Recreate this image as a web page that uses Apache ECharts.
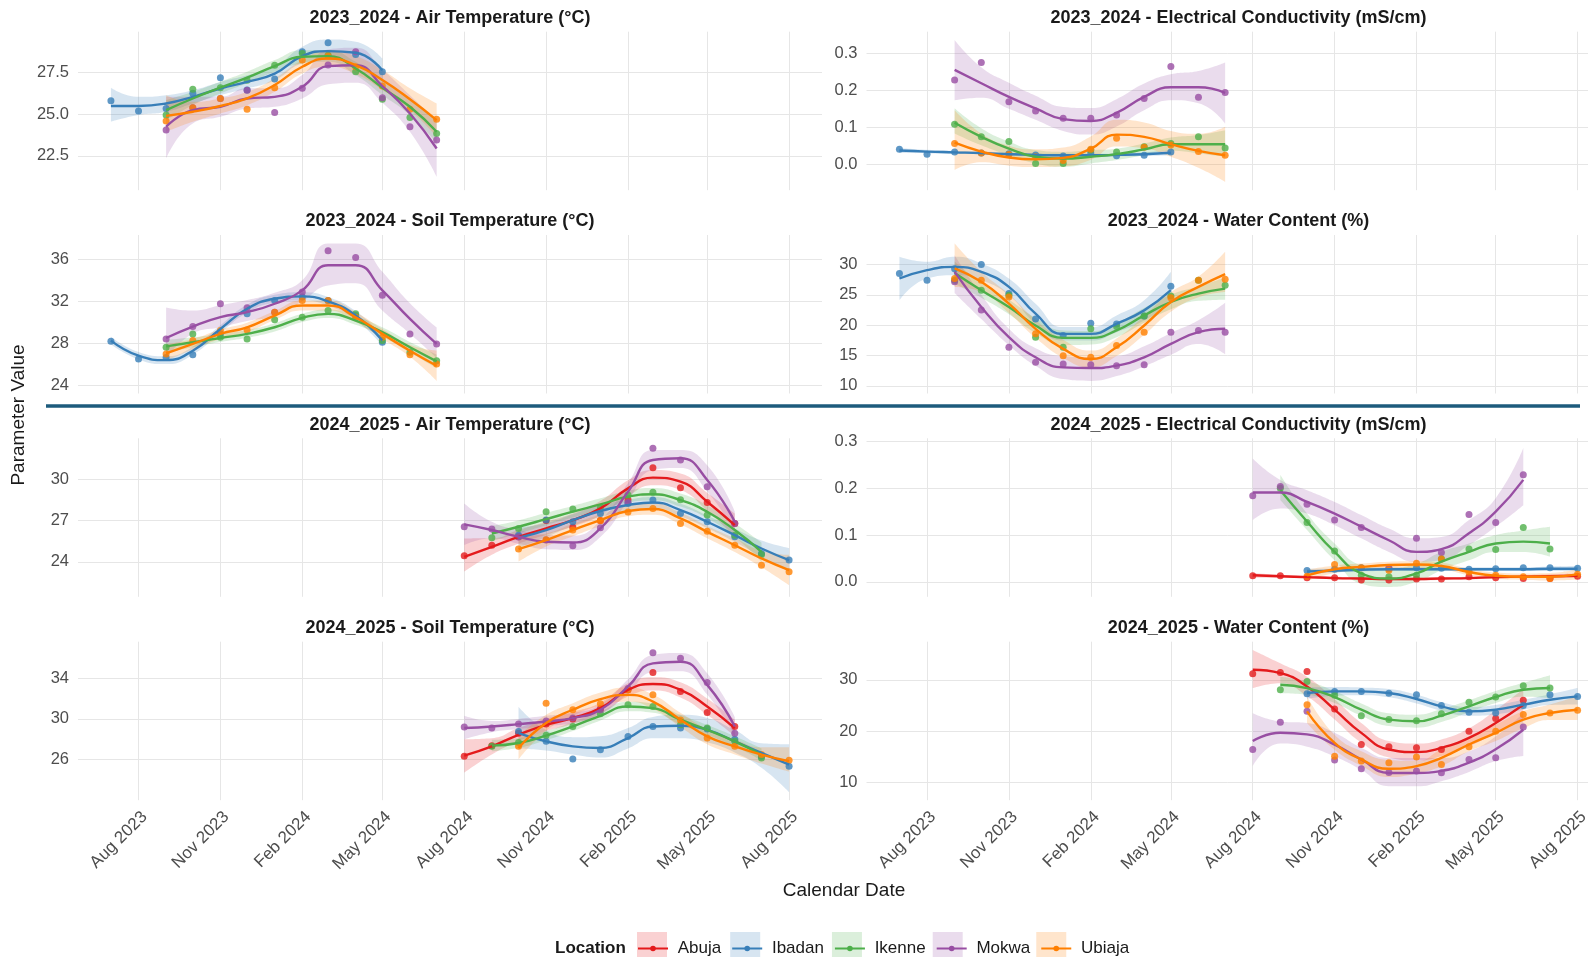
<!DOCTYPE html>
<html>
<head>
<meta charset="utf-8">
<title>Parameter values by location</title>
<script src="https://cdn.jsdelivr.net/npm/echarts@6.0.0/dist/echarts.min.js"></script>
<style>
  html, body { margin: 0; padding: 0; background: #fff; }
  #chart { width: 1588px; height: 957px; }
</style>
</head>
<body>
<div id="chart"></div>
<script>
// sampling months
const m23a = ['2023-07','2023-08','2023-09','2023-10','2023-11','2023-12','2024-01','2024-02','2024-03','2024-04','2024-05'];
const m23b = ['2023-09','2023-10','2023-11','2023-12','2024-01','2024-02','2024-03','2024-04','2024-05','2024-06','2024-07'];
const m24a = ['2024-08','2024-09','2024-10','2024-11','2024-12','2025-01','2025-02','2025-03','2025-04','2025-05','2025-06'];
const m24b = ['2024-09','2024-10','2024-11','2024-12','2025-01','2025-02','2025-03','2025-04','2025-05','2025-06','2025-07'];
const m24c = ['2024-10','2024-11','2024-12','2025-01','2025-02','2025-03','2025-04','2025-05','2025-06','2025-07','2025-08'];
const m24d = ['2024-08','2024-09','2024-10','2024-11','2024-12','2025-01','2025-02','2025-03','2025-04','2025-05','2025-06','2025-07','2025-08'];

// x tick labels
const xTickDates = ['2023-08-01','2023-11-01','2024-02-01','2024-05-01','2024-08-01','2024-11-01','2025-02-01','2025-05-01','2025-08-01'];
const xTickLabels = ['Aug 2023','Nov 2023','Feb 2024','May 2024','Aug 2024','Nov 2024','Feb 2025','May 2025','Aug 2025'];

// y tick values
const AT23_ticks = [22.5, 25, 27.5];
const EC_ticks = [0, 0.1, 0.2, 0.3];
const ST23_ticks = [24, 28, 32, 36];
const WC23_ticks = [10, 15, 20, 25, 30];
const AT24_ticks = [24, 27, 30];
const ST24_ticks = [26, 30, 34];
const WC24_ticks = [10, 20, 30];

// ---- 2023_2024 Air Temperature
const AT23_Ib_pt  = [25.81,25.19,25.35,26.26,27.2,26.46,27.12,28.77,29.31,28.6,27.56];
const AT23_Ib_fit = [25.5,25.5,25.65,26.05,26.55,26.95,27.45,28.5,28.8,28.7,27.65];
const AT23_Ib_lo  = [24.55,24.95,25.15,25.65,26.15,26.55,27.05,28.06,28.26,28.06,26.96];
const AT23_Ib_hi  = [26.6,26.05,26.15,26.45,26.95,27.35,27.85,29.06,29.5,29.37,28.36];
const AT23_Ik_pt  = [24.95,26.5,26.6,27.05,27.95,28.66,28.56,27.56,25.9,24.8,23.85];
const AT23_Ik_fit = [25.25,25.95,26.6,27.2,27.9,28.46,28.5,27.76,26.6,25.45,23.95];
const AT23_Ik_lo  = [24.65,25.55,26.25,26.86,27.56,28.06,28.16,27.36,26.16,24.95,23.24];
const AT23_Ik_hi  = [25.85,26.35,26.96,27.56,28.26,28.86,28.86,28.16,27.06,25.95,24.65];
const AT23_Mo_pt  = [24.05,25.4,25.95,26.45,25.1,26.56,27.96,28.77,26.0,24.25,23.45];
const AT23_Mo_fit = [24.25,25.25,25.45,25.95,26.05,26.66,27.9,27.95,26.7,25.05,22.94];
const AT23_Mo_lo  = [22.34,24.45,24.85,25.35,25.45,25.95,26.8,26.9,25.7,23.95,21.24];
const AT23_Mo_hi  = [26.05,26.05,26.05,26.56,26.56,27.36,28.9,29.0,27.7,26.15,24.6];
const AT23_Ub_pt  = [24.6,25.4,25.95,25.3,26.6,28.26,28.5,27.86,26.7,25.3,24.7];
const AT23_Ub_fit = [24.9,25.15,25.5,25.95,26.76,27.86,28.36,27.96,27.06,25.9,24.65];
const AT23_Ub_lo  = [23.95,24.55,25.05,25.55,26.36,27.46,27.86,27.42,26.46,25.25,23.64];
const AT23_Ub_hi  = [26.15,25.75,25.95,26.35,27.16,28.26,28.86,28.5,27.66,26.56,25.65];

// ---- 2023_2024 Electrical Conductivity
const EC23_Ib_pt  = [0.040,0.027,0.033,0.030,0.028,0.025,0.022,0.030,0.023,0.024,0.033];
const EC23_Ib_fit = [0.037,0.034,0.032,0.030,0.027,0.025,0.024,0.024,0.025,0.027,0.031];
const EC23_Ib_lo  = [0.030,0.029,0.028,0.026,0.023,0.021,0.020,0.020,0.021,0.022,0.024];
const EC23_Ib_hi  = [0.044,0.039,0.036,0.034,0.031,0.029,0.028,0.028,0.029,0.032,0.038];
const EC23_Ik_pt  = [0.108,0.074,0.061,0.002,0.002,0.038,0.033,0.047,0.056,0.074,0.044];
const EC23_Ik_fit = [0.112,0.074,0.042,0.020,0.015,0.020,0.027,0.040,0.054,0.054,0.054];
const EC23_Ik_lo  = [0.083,0.051,0.024,0.002,-0.007,0.002,0.011,0.024,0.036,0.029,0.020];
const EC23_Ik_hi  = [0.151,0.097,0.061,0.038,0.033,0.038,0.042,0.056,0.072,0.079,0.092];
const EC23_Mo_pt  = [0.228,0.275,0.169,0.144,0.124,0.124,0.133,0.178,0.264,0.181,0.194];
const EC23_Mo_fit = [0.255,0.219,0.182,0.151,0.122,0.117,0.139,0.182,0.208,0.208,0.193];
const EC23_Mo_lo  = [0.173,0.180,0.150,0.120,0.090,0.080,0.102,0.146,0.173,0.165,0.110];
const EC23_Mo_hi  = [0.336,0.262,0.220,0.185,0.155,0.152,0.176,0.218,0.243,0.252,0.275];
const EC23_Ub_pt  = [0.056,0.030,0.026,0.020,0.010,0.040,0.070,0.046,0.052,0.034,0.024];
const EC23_Ub_fit = [0.058,0.034,0.018,0.013,0.017,0.042,0.080,0.074,0.054,0.036,0.024];
const EC23_Ub_lo  = [-0.016,0.005,-0.004,-0.008,-0.006,0.012,0.048,0.043,0.020,-0.010,-0.048];
const EC23_Ub_hi  = [0.146,0.083,0.050,0.040,0.045,0.075,0.120,0.113,0.090,0.082,0.101];

// ---- 2023_2024 Soil Temperature
const ST23_Ib_pt  = [28.17,26.48,26.64,26.9,28.9,30.8,32.07,32.39,32.07,30.63,28.08];
const ST23_Ib_fit = [28.24,26.8,26.38,27.28,29.35,31.27,32.23,32.45,31.97,30.63,28.24];
const ST23_Ib_lo  = [27.9,26.45,26.0,26.9,29.0,30.9,31.85,32.05,31.55,30.2,27.75];
const ST23_Ib_hi  = [28.6,27.15,26.75,27.65,29.7,31.65,32.6,32.85,32.4,31.05,28.7];
const ST23_Ik_pt  = [27.6,28.88,28.56,28.4,30.22,30.47,31.11,30.8,28.24,27.12,26.32];
const ST23_Ik_fit = [27.69,28.08,28.49,28.88,29.51,30.41,30.79,30.15,29.04,27.6,26.26];
const ST23_Ik_lo  = [27.1,27.6,28.1,28.5,29.1,30.0,30.4,29.75,28.6,27.1,25.6];
const ST23_Ik_hi  = [28.3,28.55,28.9,29.25,29.9,30.8,31.2,30.55,29.5,28.1,26.9];
const ST23_Mo_pt  = [28.4,29.58,31.75,31.37,30.95,32.87,36.8,36.16,32.55,28.88,27.92];
const ST23_Mo_fit = [28.49,29.58,30.47,30.95,31.75,33.03,35.42,35.42,33.03,30.31,27.92];
const ST23_Mo_lo  = [26.6,28.9,29.5,30.1,30.6,32.0,33.5,33.7,31.1,28.9,26.6];
const ST23_Mo_hi  = [31.4,31.1,31.6,32.1,32.8,34.0,37.5,37.5,34.8,31.8,29.5];
const ST23_Ub_pt  = [26.96,28.24,29.19,29.26,30.95,32.07,32.07,30.47,28.56,26.9,26.0];
const ST23_Ub_fit = [27.02,27.92,28.88,29.51,30.63,31.59,31.59,30.47,28.88,27.28,25.84];
const ST23_Ub_lo  = [26.3,27.4,28.4,29.05,30.2,31.1,31.1,30.0,28.4,26.7,24.4];
const ST23_Ub_hi  = [27.9,28.4,29.3,29.95,31.05,32.05,32.05,30.95,29.35,27.85,27.3];

// ---- 2023_2024 Water Content
const WC23_Ib_pt  = [28.5,27.4,29.3,30.0,25.2,21.0,18.3,20.3,20.2,21.5,26.4];
const WC23_Ib_fit = [27.68,29.06,29.6,28.78,26.3,21.88,18.56,18.56,20.22,22.43,25.75];
const WC23_Ib_lo  = [24.09,27.68,28.23,27.4,24.92,20.22,17.46,17.46,18.84,20.77,23.54];
const WC23_Ib_hi  = [31.27,30.44,31.27,30.17,27.68,23.54,19.67,19.67,21.6,24.09,28.78];
const WC23_Ik_pt  = [27.4,25.75,24.92,18.0,16.35,19.4,19.78,21.5,24.8,27.4,26.57];
const WC23_Ik_fit = [28.6,25.75,22.98,19.94,17.9,17.9,19.12,21.6,23.81,25.19,26.02];
const WC23_Ik_lo  = [26.8,24.5,21.8,18.7,16.7,16.8,18.0,20.4,22.6,24.0,24.2];
const WC23_Ik_hi  = [30.5,27.0,24.2,21.2,19.1,19.0,20.3,22.8,25.0,26.4,27.8];
const WC23_Mo_pt  = [27.13,22.5,16.35,13.87,13.6,13.48,13.32,13.48,18.84,19.12,18.84];
const WC23_Mo_fit = [28.78,22.98,18.01,14.7,13.04,12.93,13.32,14.7,16.91,18.84,19.39];
const WC23_Mo_lo  = [25.3,21.0,16.7,13.3,11.1,10.8,11.6,13.2,15.1,16.9,15.2];
const WC23_Mo_hi  = [31.5,25.0,19.4,16.2,14.9,14.7,14.9,16.5,18.7,20.8,23.7];
const WC23_Ub_pt  = [27.68,27.4,24.64,18.56,14.97,14.7,16.63,18.84,24.5,27.4,27.57];
const WC23_Ub_fit = [29.34,27.13,23.54,19.39,16.08,14.42,16.35,19.94,23.81,26.3,28.4];
const WC23_Ub_lo  = [26.3,25.5,22.0,17.9,14.6,13.04,14.9,18.4,22.2,24.6,25.47];
const WC23_Ub_hi  = [33.48,28.8,25.1,20.9,17.6,15.8,17.8,21.5,25.4,28.0,32.1];

// ---- 2024_2025 Air Temperature
const AT24_Ab_pt  = [24.43,25.2,25.81,27.0,26.5,27.0,28.5,30.82,29.37,28.3,26.78];
const AT24_Ab_fit = [24.36,25.08,25.81,26.42,27.02,27.87,29.32,30.1,29.81,28.35,26.66];
const AT24_Ab_lo  = [23.27,24.5,25.3,25.95,26.55,27.35,28.75,29.55,29.2,27.7,25.8];
const AT24_Ab_hi  = [25.69,25.7,26.3,26.9,27.5,28.4,29.9,30.65,30.4,29.0,27.5];
const AT24_Ib_pt  = [25.93,27.02,26.9,27.5,28.23,28.47,27.5,26.9,25.81,24.6,24.12];
const AT24_Ib_fit = [25.74,26.3,27.02,27.68,28.11,28.3,27.75,26.9,25.93,24.96,24.12];
const AT24_Ib_lo  = [25.0,25.8,26.6,27.25,27.7,27.9,27.3,26.45,25.45,24.35,23.3];
const AT24_Ib_hi  = [26.5,26.8,27.45,28.1,28.5,28.7,28.2,27.35,26.4,25.55,25.0];
const AT24_Ik_pt  = [25.74,26.42,27.63,27.82,27.9,28.84,29.03,28.5,27.39,25.93,24.53];
const AT24_Ik_fit = [26.05,26.54,27.09,27.63,28.16,28.72,28.89,28.47,27.63,26.3,24.72];
const AT24_Ik_lo  = [25.5,26.05,26.65,27.2,27.75,28.3,28.45,28.0,27.15,25.8,24.0];
const AT24_Ik_hi  = [26.6,27.0,27.55,28.05,28.6,29.15,29.35,28.95,28.1,26.8,25.4];
const AT24_Mo_pt  = [26.54,26.37,25.8,25.57,25.16,26.47,28.3,32.23,31.38,29.44,26.78];
const AT24_Mo_fit = [26.71,26.3,25.81,25.45,25.4,26.42,29.08,31.38,31.5,29.93,26.9];
const AT24_Mo_lo  = [25.2,25.7,25.3,24.9,24.85,25.8,28.4,30.65,30.8,29.1,26.2];
const AT24_Mo_hi  = [28.23,26.9,26.3,25.95,25.9,27.0,29.7,32.1,32.1,31.0,27.65];
const AT24_Ub_pt  = [24.92,25.6,26.3,27.0,27.6,27.87,26.78,26.22,25.2,23.75,23.27];
const AT24_Ub_fit = [24.92,25.57,26.3,27.02,27.68,27.82,27.14,26.17,25.2,24.24,23.39];
const AT24_Ub_lo  = [24.0,25.1,25.85,26.6,27.3,27.4,26.7,25.7,24.7,23.6,22.3];
const AT24_Ub_hi  = [25.8,26.05,26.75,27.45,28.05,28.25,27.55,26.6,25.7,24.8,24.5];

// ---- 2024_2025 Electrical Conductivity
const EC24_Ab_pt  = [0.013,0.013,0.009,0.009,0.004,0.004,0.006,0.006,0.011,0.009,0.007,0.007,0.012];
const EC24_Ab_fit = [0.014,0.012,0.010,0.008,0.007,0.006,0.006,0.007,0.008,0.010,0.011,0.012,0.013];
const EC24_Ab_lo  = [0.009,0.009,0.007,0.005,0.004,0.003,0.003,0.004,0.005,0.007,0.008,0.008,0.008];
const EC24_Ab_hi  = [0.019,0.015,0.013,0.011,0.010,0.009,0.009,0.010,0.011,0.013,0.014,0.016,0.018];
const EC24_Ib_pt  = [0.024,0.027,0.030,0.028,0.030,0.029,0.027,0.028,0.030,0.030,0.029];
const EC24_Ib_fit = [0.022,0.024,0.026,0.027,0.027,0.027,0.027,0.027,0.027,0.028,0.028];
const EC24_Ib_lo  = [0.016,0.020,0.022,0.023,0.023,0.023,0.023,0.023,0.023,0.023,0.022];
const EC24_Ib_hi  = [0.028,0.028,0.030,0.031,0.031,0.031,0.031,0.031,0.031,0.033,0.034];
const EC24_Ik_pt  = [0.200,0.127,0.066,0.014,0.011,0.014,0.049,0.070,0.069,0.116,0.070];
const EC24_Ik_fit = [0.196,0.129,0.064,0.018,0.007,0.018,0.043,0.064,0.082,0.086,0.082];
const EC24_Ik_lo  = [0.175,0.111,0.046,-0.004,-0.011,0.000,0.025,0.046,0.064,0.064,0.054];
const EC24_Ik_hi  = [0.229,0.146,0.082,0.036,0.029,0.039,0.064,0.082,0.100,0.110,0.118];
const EC24_Mo_pt  = [0.184,0.204,0.166,0.132,0.116,0.030,0.093,0.063,0.144,0.127,0.229];
const EC24_Mo_fit = [0.191,0.191,0.171,0.146,0.118,0.089,0.064,0.070,0.104,0.150,0.218];
const EC24_Mo_lo  = [0.132,0.157,0.146,0.121,0.093,0.064,0.043,0.046,0.079,0.118,0.164];
const EC24_Mo_hi  = [0.264,0.218,0.196,0.171,0.143,0.114,0.093,0.096,0.132,0.179,0.286];
const EC24_Ub_pt  = [0.012,0.037,0.030,0.025,0.040,0.049,0.021,0.014,0.011,0.007,0.016];
const EC24_Ub_fit = [0.014,0.027,0.032,0.036,0.037,0.034,0.021,0.013,0.011,0.011,0.016];
const EC24_Ub_lo  = [0.002,0.019,0.025,0.029,0.030,0.027,0.014,0.006,0.004,0.003,0.005];
const EC24_Ub_hi  = [0.026,0.035,0.039,0.043,0.044,0.041,0.028,0.020,0.018,0.019,0.027];

// ---- 2024_2025 Soil Temperature
const ST24_Ab_pt  = [26.32,27.37,28.6,29.5,30.0,31.0,32.86,34.56,32.69,30.63,29.26];
const ST24_Ab_fit = [26.39,27.3,28.44,29.42,30.08,31.06,32.86,33.44,32.86,31.22,29.1];
const ST24_Ab_lo  = [24.7,26.5,27.8,28.8,29.5,30.5,32.2,32.8,32.1,30.4,28.3];
const ST24_Ab_hi  = [28.0,28.1,29.1,30.0,30.7,31.6,33.5,34.1,33.6,32.0,29.9];
const ST24_Ib_pt  = [28.77,27.8,26.06,26.97,28.28,29.26,29.1,29.0,28.0,26.32,25.34];
const ST24_Ib_fit = [28.61,27.79,27.3,27.14,28.12,29.26,29.33,28.93,27.79,26.65,25.5];
const ST24_Ib_lo  = [27.1,26.9,26.5,26.2,27.1,28.1,28.1,27.7,26.7,25.2,22.8];
const ST24_Ib_hi  = [31.2,28.9,28.2,28.3,29.1,30.2,30.4,30.1,28.9,27.6,27.5];
const ST24_Ik_pt  = [27.3,27.69,28.4,29.26,30.5,31.39,31.22,29.42,29.1,27.8,26.16];
const ST24_Ik_fit = [27.37,27.63,28.35,29.26,30.31,31.22,31.06,29.92,28.93,27.79,26.48];
const ST24_Ik_lo  = [26.8,27.15,27.9,28.8,29.85,30.75,30.6,29.45,28.45,27.3,25.9];
const ST24_Ik_hi  = [27.95,28.1,28.8,29.7,30.75,31.7,31.5,30.4,29.4,28.3,27.1];
const ST24_Mo_pt  = [29.2,29.1,29.5,29.8,30.1,30.9,33.0,36.52,35.96,33.58,28.6];
const ST24_Mo_fit = [29.1,29.26,29.49,29.75,30.08,30.9,33.18,35.47,35.63,33.35,29.26];
const ST24_Mo_lo  = [28.0,28.7,29.0,29.3,29.6,30.4,32.5,34.6,34.7,32.4,28.3];
const ST24_Mo_hi  = [30.3,29.8,30.0,30.3,30.6,31.4,33.9,36.3,36.5,34.5,30.2];
const ST24_Ub_pt  = [27.3,31.55,30.9,31.5,32.86,32.37,29.9,28.12,27.3,26.5,25.93];
const ST24_Ub_fit = [27.14,29.59,30.9,31.94,32.37,31.71,29.92,28.28,27.3,26.48,25.83];
const ST24_Ub_lo  = [26.0,28.8,30.3,31.3,31.7,31.0,29.2,27.5,26.5,25.6,24.8];
const ST24_Ub_hi  = [28.3,30.4,31.55,32.6,33.1,32.4,30.6,29.0,28.0,27.2,27.2];

// ---- 2024_2025 Water Content
const WC24_Ab_pt  = [31.16,31.4,31.6,24.32,17.42,16.97,16.77,16.45,20.0,22.5,26.0];
const WC24_Ab_fit = [31.94,31.29,28.71,24.19,19.68,16.45,15.94,16.77,18.71,21.61,25.16];
const WC24_Ab_lo  = [28.39,29.35,26.8,22.3,17.8,14.9,14.3,15.2,17.1,19.6,22.3];
const WC24_Ab_hi  = [35.8,33.2,30.6,26.2,21.6,18.1,17.6,18.4,20.6,24.1,28.2];
const WC24_Ib_pt  = [27.29,27.74,27.74,27.4,27.1,25.0,23.68,23.55,25.0,27.1,26.77];
const WC24_Ib_fit = [27.42,27.74,27.74,27.42,26.26,24.84,23.87,24.19,25.16,26.13,26.77];
const WC24_Ib_lo  = [26.3,26.9,27.0,26.6,25.4,24.0,23.0,23.3,24.2,25.1,25.2];
const WC24_Ib_hi  = [28.5,28.6,28.5,28.2,27.1,25.7,24.7,25.1,26.1,27.2,28.4];
const WC24_Ik_pt  = [28.06,29.68,27.0,23.03,22.26,22.06,23.42,25.61,26.65,28.84,28.39];
const WC24_Ik_fit = [29.03,28.39,26.65,24.19,22.26,21.94,23.03,24.84,26.65,28.06,28.39];
const WC24_Ik_lo  = [27.4,27.1,25.5,23.0,21.0,20.7,21.8,23.7,25.5,26.7,26.4];
const WC24_Ik_hi  = [30.6,29.7,27.8,25.4,23.5,23.2,24.3,26.0,27.8,29.4,30.9];
const WC24_Mo_pt  = [16.45,21.74,23.87,14.39,12.71,12.0,12.26,11.94,14.52,14.84,20.84];
const WC24_Mo_fit = [18.1,19.7,19.4,17.4,14.5,11.9,11.9,12.3,13.9,16.5,20.3];
const WC24_Mo_lo  = [13.2,17.6,17.0,15.1,12.5,9.3,9.3,10.3,12.1,14.2,15.2];
const WC24_Mo_hi  = [23.5,21.9,21.6,19.7,16.8,14.8,14.8,14.8,16.1,19.0,23.5];
const WC24_Ub_pt  = [25.16,15.16,14.2,13.87,15.0,13.55,17.0,20.0,23.23,23.55,24.06];
const WC24_Ub_fit = [23.87,17.74,14.52,12.71,13.23,14.84,17.42,19.68,22.26,23.55,24.19];
const WC24_Ub_lo  = [21.6,16.4,13.3,11.1,11.8,13.2,16.1,18.1,20.6,22.2,22.2];
const WC24_Ub_hi  = [26.8,19.3,16.1,14.4,14.2,16.5,19.0,21.3,23.9,25.2,26.8];

const LOCS = ['Abuja', 'Ibadan', 'Ikenne', 'Mokwa', 'Ubiaja'];
const LOC_COLOR = { Abuja: '#E41A1C', Ibadan: '#377EB8', Ikenne: '#4DAF4A', Mokwa: '#984EA3', Ubiaja: '#FF7F00' };
const LOC_FILL = { Abuja: 'rgba(228,26,28,0.2)', Ibadan: 'rgba(55,126,184,0.2)', Ikenne: 'rgba(77,175,74,0.2)', Mokwa: 'rgba(152,78,163,0.2)', Ubiaja: 'rgba(255,127,0,0.2)' };

const FONT = "'Liberation Sans', Arial, sans-serif";

// panel table: title, column, row, y range, y ticks, decimals, [location, months, pts, fit, lo, hi]
const panels = [
  ['2023_2024 - Air Temperature (°C)', 0, 0, [20.43, 29.97], AT23_ticks, 1, [
    ['Ibadan', m23a, AT23_Ib_pt, AT23_Ib_fit, AT23_Ib_lo, AT23_Ib_hi],
    ['Ikenne', m23b, AT23_Ik_pt, AT23_Ik_fit, AT23_Ik_lo, AT23_Ik_hi],
    ['Mokwa', m23b, AT23_Mo_pt, AT23_Mo_fit, AT23_Mo_lo, AT23_Mo_hi],
    ['Ubiaja', m23b, AT23_Ub_pt, AT23_Ub_fit, AT23_Ub_lo, AT23_Ub_hi]]],
  ['2023_2024 - Electrical Conductivity (mS/cm)', 1, 0, [-0.0705, 0.3585], EC_ticks, 1, [
    ['Ibadan', m23a, EC23_Ib_pt, EC23_Ib_fit, EC23_Ib_lo, EC23_Ib_hi],
    ['Ikenne', m23b, EC23_Ik_pt, EC23_Ik_fit, EC23_Ik_lo, EC23_Ik_hi],
    ['Mokwa', m23b, EC23_Mo_pt, EC23_Mo_fit, EC23_Mo_lo, EC23_Mo_hi],
    ['Ubiaja', m23b, EC23_Ub_pt, EC23_Ub_fit, EC23_Ub_lo, EC23_Ub_hi]]],
  ['2023_2024 - Soil Temperature (°C)', 0, 1, [23.2, 38.3], ST23_ticks, 0, [
    ['Ibadan', m23a, ST23_Ib_pt, ST23_Ib_fit, ST23_Ib_lo, ST23_Ib_hi],
    ['Ikenne', m23b, ST23_Ik_pt, ST23_Ik_fit, ST23_Ik_lo, ST23_Ik_hi],
    ['Mokwa', m23b, ST23_Mo_pt, ST23_Mo_fit, ST23_Mo_lo, ST23_Mo_hi],
    ['Ubiaja', m23b, ST23_Ub_pt, ST23_Ub_fit, ST23_Ub_lo, ST23_Ub_hi]]],
  ['2023_2024 - Water Content (%)', 1, 1, [8.73, 34.85], WC23_ticks, 0, [
    ['Ibadan', m23a, WC23_Ib_pt, WC23_Ib_fit, WC23_Ib_lo, WC23_Ib_hi],
    ['Ikenne', m23b, WC23_Ik_pt, WC23_Ik_fit, WC23_Ik_lo, WC23_Ik_hi],
    ['Mokwa', m23b, WC23_Mo_pt, WC23_Mo_fit, WC23_Mo_lo, WC23_Mo_hi],
    ['Ubiaja', m23b, WC23_Ub_pt, WC23_Ub_fit, WC23_Ub_lo, WC23_Ub_hi]]],
  ['2024_2025 - Air Temperature (°C)', 0, 2, [21.46, 32.95], AT24_ticks, 0, [
    ['Abuja', m24a, AT24_Ab_pt, AT24_Ab_fit, AT24_Ab_lo, AT24_Ab_hi],
    ['Ibadan', m24c, AT24_Ib_pt, AT24_Ib_fit, AT24_Ib_lo, AT24_Ib_hi],
    ['Ikenne', m24b, AT24_Ik_pt, AT24_Ik_fit, AT24_Ik_lo, AT24_Ik_hi],
    ['Mokwa', m24a, AT24_Mo_pt, AT24_Mo_fit, AT24_Mo_lo, AT24_Mo_hi],
    ['Ubiaja', m24c, AT24_Ub_pt, AT24_Ub_fit, AT24_Ub_lo, AT24_Ub_hi]]],
  ['2024_2025 - Electrical Conductivity (mS/cm)', 1, 2, [-0.032, 0.307], EC_ticks, 1, [
    ['Abuja', m24d, EC24_Ab_pt, EC24_Ab_fit, EC24_Ab_lo, EC24_Ab_hi],
    ['Ibadan', m24c, EC24_Ib_pt, EC24_Ib_fit, EC24_Ib_lo, EC24_Ib_hi],
    ['Ikenne', m24b, EC24_Ik_pt, EC24_Ik_fit, EC24_Ik_lo, EC24_Ik_hi],
    ['Mokwa', m24a, EC24_Mo_pt, EC24_Mo_fit, EC24_Mo_lo, EC24_Mo_hi],
    ['Ubiaja', m24c, EC24_Ub_pt, EC24_Ub_fit, EC24_Ub_lo, EC24_Ub_hi]]],
  ['2024_2025 - Soil Temperature (°C)', 0, 3, [22.0, 37.6], ST24_ticks, 0, [
    ['Abuja', m24a, ST24_Ab_pt, ST24_Ab_fit, ST24_Ab_lo, ST24_Ab_hi],
    ['Ibadan', m24c, ST24_Ib_pt, ST24_Ib_fit, ST24_Ib_lo, ST24_Ib_hi],
    ['Ikenne', m24b, ST24_Ik_pt, ST24_Ik_fit, ST24_Ik_lo, ST24_Ik_hi],
    ['Mokwa', m24a, ST24_Mo_pt, ST24_Mo_fit, ST24_Mo_lo, ST24_Mo_hi],
    ['Ubiaja', m24c, ST24_Ub_pt, ST24_Ub_fit, ST24_Ub_lo, ST24_Ub_hi]]],
  ['2024_2025 - Water Content (%)', 1, 3, [6.6, 37.4], WC24_ticks, 0, [
    ['Abuja', m24a, WC24_Ab_pt, WC24_Ab_fit, WC24_Ab_lo, WC24_Ab_hi],
    ['Ibadan', m24c, WC24_Ib_pt, WC24_Ib_fit, WC24_Ib_lo, WC24_Ib_hi],
    ['Ikenne', m24b, WC24_Ik_pt, WC24_Ik_fit, WC24_Ik_lo, WC24_Ik_hi],
    ['Mokwa', m24a, WC24_Mo_pt, WC24_Mo_fit, WC24_Mo_lo, WC24_Mo_hi],
    ['Ubiaja', m24c, WC24_Ub_pt, WC24_Ub_fit, WC24_Ub_lo, WC24_Ub_hi]]]
];

// layout
const GRID_LEFT = [78, 866.5], GRID_W = 744, GRID_TOP = [31.7, 235, 438.3, 641.7], GRID_H = 158.5;

function ts(s) {
  const p = s.split('-').map(Number);
  return Date.UTC(p[0], p[1] - 1, p[2] || 1);
}
const X_MIN = ts('2023-05-25'), X_MAX = ts('2025-09-07');
const xTickTs = xTickDates.map(ts);

// same spline rule as the line series (smooth: true -> 0.5)
function smoothPath(pts, start) {
  const S = 0.5;
  let d = (start ? 'M' : 'L') + pts[0][0] + ',' + pts[0][1];
  let c0x = pts[0][0], c0y = pts[0][1];
  for (let k = 1; k < pts.length; k++) {
    const x = pts[k][0], y = pts[k][1], px = pts[k - 1][0], py = pts[k - 1][1];
    let c1x = x, c1y = y, nx0 = x, ny0 = y;
    if (k < pts.length - 1) {
      const nx = pts[k + 1][0], ny = pts[k + 1][1];
      const lp = Math.hypot(x - px, y - py), ln = Math.hypot(nx - x, ny - y);
      const r = ln / (ln + lp);
      let vx = nx - px, vy = ny - py;
      nx0 = x + vx * S * r; ny0 = y + vy * S * r;
      nx0 = Math.max(Math.min(nx0, Math.max(nx, x)), Math.min(nx, x));
      ny0 = Math.max(Math.min(ny0, Math.max(ny, y)), Math.min(ny, y));
      vx = nx0 - x; vy = ny0 - y;
      c1x = x - vx * lp / ln; c1y = y - vy * lp / ln;
      c1x = Math.max(Math.min(c1x, Math.max(px, x)), Math.min(px, x));
      c1y = Math.max(Math.min(c1y, Math.max(py, y)), Math.min(py, y));
      vx = x - c1x; vy = y - c1y;
      nx0 = x + vx * ln / lp; ny0 = y + vy * ln / lp;
    }
    d += ' C' + c0x + ',' + c0y + ' ' + c1x + ',' + c1y + ' ' + x + ',' + y;
    c0x = nx0; c0y = ny0;
  }
  return d;
}

const grids = [], xAxes = [], yAxes = [], series = [], graphics = [];

panels.forEach(function (p, gi) {
  const [title, col, row, yRange, yTicks, dec, locs] = p;
  grids.push({ left: GRID_LEFT[col], top: GRID_TOP[row], width: GRID_W, height: GRID_H, containLabel: false, outerBoundsMode: 'none' });
  xAxes.push({
    type: 'value', gridIndex: gi, min: X_MIN, max: X_MAX,
    axisLine: { show: false },
    axisTick: { show: false, customValues: xTickTs },
    splitLine: { show: true, lineStyle: { color: '#e6e6e6', width: 1 } },
    axisLabel: {
      show: row === 3, customValues: xTickTs, rotate: 45, align: 'right', verticalAlign: 'top', margin: 8,
      color: '#4d4d4d', fontSize: 17, fontFamily: FONT,
      formatter: function (v) {
        const i = xTickTs.findIndex(t => Math.abs(t - v) < 43200000);
        return i < 0 ? '' : xTickLabels[i];
      }
    }
  });
  yAxes.push({
    type: 'value', gridIndex: gi, min: yRange[0], max: yRange[1],
    axisLine: { show: false },
    axisTick: { show: false, customValues: yTicks },
    splitLine: { show: true, lineStyle: { color: '#e6e6e6', width: 1 } },
    axisLabel: {
      customValues: yTicks, margin: 9, color: '#4d4d4d', fontSize: 16.5, fontFamily: FONT,
      formatter: v => Number(v).toFixed(dec)
    }
  });
  graphics.push({
    type: 'text', x: GRID_LEFT[col] + GRID_W / 2, y: GRID_TOP[row] - 13.5,
    style: { text: title, fill: '#1a1a1a', fontSize: 18, fontWeight: 'bold', fontFamily: FONT,
      textAlign: 'center', textVerticalAlign: 'middle', align: 'center', verticalAlign: 'middle' }
  });

  // observations
  locs.forEach(function ([name, months, pt]) {
    series.push({
      type: 'scatter', name: name + ' obs', xAxisIndex: gi, yAxisIndex: gi, silent: true,
      symbolSize: 7, itemStyle: { color: LOC_COLOR[name], opacity: 0.8 },
      data: months.map((m, i) => [ts(m), pt[i]])
    });
  });
  // confidence band + smooth fit
  locs.forEach(function ([name, months, pt, fit, lo, hi]) {
    const xs = months.map(ts);
    series.push({
      type: 'custom', name: name + '_band', xAxisIndex: gi, yAxisIndex: gi, silent: true, clip: true,
      itemStyle: { color: LOC_FILL[name] },
      data: xs.map((x, i) => [x, lo[i], hi[i]]),
      encode: { x: 0, y: [1, 2] },
      renderItem: function (params, api) {
        if (params.dataIndex !== 0) return null;
        const up = xs.map((x, i) => api.coord([x, hi[i]]));
        const dn = xs.map((x, i) => api.coord([x, lo[i]])).reverse();
        return {
          type: 'path',
          shape: { pathData: smoothPath(up, true) + ' ' + smoothPath(dn, false) + ' Z' },
          style: { fill: LOC_FILL[name], stroke: null }
        };
      }
    });
    series.push({
      type: 'line', name: name, xAxisIndex: gi, yAxisIndex: gi, silent: true,
      smooth: true, symbol: 'none', color: LOC_COLOR[name],
      lineStyle: { width: 2.4, color: LOC_COLOR[name] },
      data: xs.map((x, i) => [x, fit[i]])
    });
  });
});

graphics.push(
  { type: 'line', shape: { x1: 46, y1: 406, x2: 1580, y2: 406 }, style: { stroke: '#1d5b7c', lineWidth: 3.5 } },
  { type: 'text', x: 844, y: 891,
    style: { text: 'Calendar Date', fill: '#1a1a1a', fontSize: 19, fontFamily: FONT,
      textAlign: 'center', textVerticalAlign: 'middle', align: 'center', verticalAlign: 'middle' } },
  { type: 'text', x: 19, y: 415, rotation: Math.PI / 2,
    style: { text: 'Parameter Value', fill: '#1a1a1a', fontSize: 19, fontFamily: FONT,
      textAlign: 'center', textVerticalAlign: 'middle', align: 'center', verticalAlign: 'middle' } },
  { type: 'text', x: 555, y: 948,
    style: { text: 'Location', fill: '#1a1a1a', fontSize: 17, fontWeight: 'bold', fontFamily: FONT,
      textAlign: 'left', textVerticalAlign: 'middle', align: 'left', verticalAlign: 'middle' } }
);

const chart = echarts.init(document.getElementById('chart'));
chart.setOption({
  backgroundColor: '#ffffff',
  animation: false,
  grid: grids,
  xAxis: xAxes,
  yAxis: yAxes,
  legend: [
    { // light key boxes
      left: 632, top: 927, orient: 'horizontal', itemGap: 10, itemWidth: 30, itemHeight: 28,
      icon: 'rect', selectedMode: false,
      data: LOCS.map(n => n + '_band'),
      formatter: n => ' ' + n.replace('_band', ''),
      itemStyle: { borderWidth: 0, opacity: 1 },
      textStyle: { fontSize: 17, fontFamily: FONT, color: 'rgba(0,0,0,0)' }
    },
    { // line + point keys with names
      left: 632, top: 935, orient: 'horizontal', itemGap: 10, itemWidth: 30, itemHeight: 7,
      selectedMode: false,
      data: LOCS,
      formatter: n => ' ' + n,
      textStyle: { fontSize: 17, fontFamily: FONT, color: '#1a1a1a' }
    }
  ],
  graphic: graphics,
  series: series
});
</script>
</body>
</html>
